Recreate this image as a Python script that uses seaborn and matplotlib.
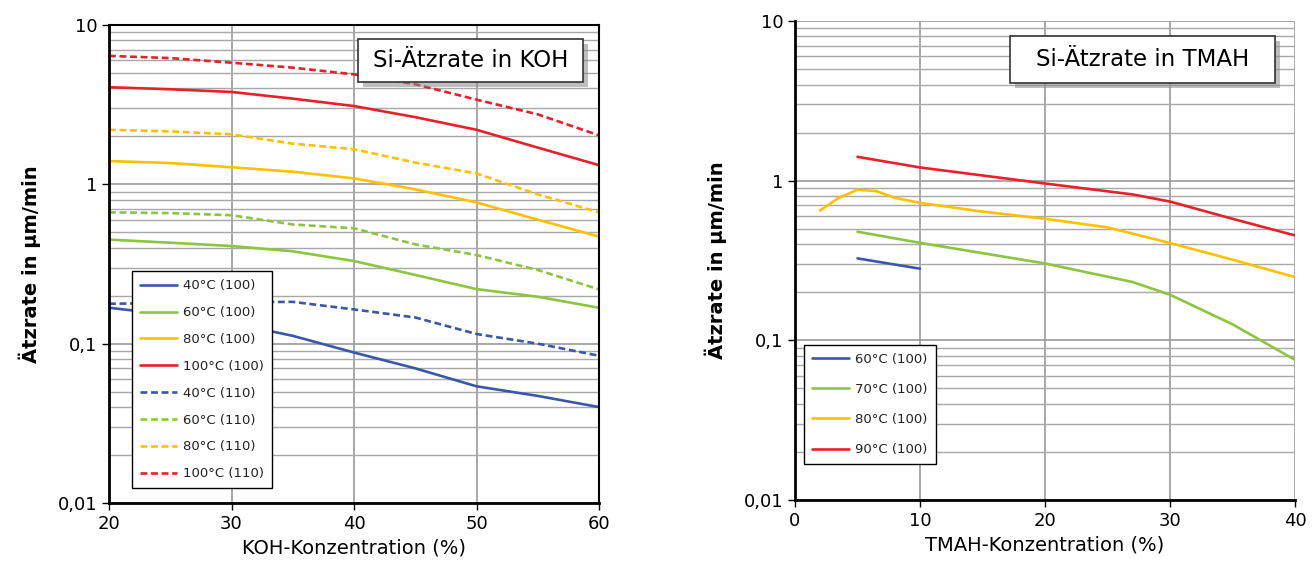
import numpy as np
import pandas as pd
import matplotlib
matplotlib.use("Agg")
import matplotlib.pyplot as plt
from matplotlib.patches import Rectangle
import seaborn as sns

# KOH data (concentration in %, rate in um/min)
koh_x = [20, 25, 30, 35, 40, 45, 50, 55, 60]
koh_40_100 = [0.168, 0.152, 0.135, 0.112, 0.088, 0.070, 0.054, 0.047, 0.040]
koh_60_100 = [0.45, 0.43, 0.41, 0.38, 0.33, 0.27, 0.22, 0.197, 0.168]
koh_80_100 = [1.40, 1.36, 1.28, 1.20, 1.09, 0.93, 0.77, 0.60, 0.47]
koh_100_100 = [4.07, 3.95, 3.80, 3.45, 3.10, 2.64, 2.20, 1.70, 1.32]
koh_40_110 = [0.178, 0.180, 0.182, 0.183, 0.164, 0.146, 0.115, 0.100, 0.084]
koh_60_110 = [0.667, 0.66, 0.64, 0.56, 0.53, 0.42, 0.36, 0.29, 0.219]
koh_80_110 = [2.20, 2.15, 2.06, 1.80, 1.66, 1.37, 1.17, 0.865, 0.667]
koh_100_110 = [6.4, 6.2, 5.8, 5.4, 4.9, 4.25, 3.4, 2.75, 2.03]
koh_labels = ["40°C (100)", "60°C (100)", "80°C (100)", "100°C (100)",
              "40°C (110)", "60°C (110)", "80°C (110)", "100°C (110)"]

# TMAH data
tmah_60_x = [5, 10]
tmah_60 = [0.326, 0.281]
tmah_70_x = [5, 10, 20, 27, 30, 35, 40]
tmah_70 = [0.479, 0.408, 0.303, 0.232, 0.193, 0.126, 0.0755]
tmah_80_x = [2, 3.5, 5, 6.5, 8, 10, 15, 20, 25, 30, 35, 40]
tmah_80 = [0.65, 0.78, 0.877, 0.86, 0.78, 0.726, 0.64, 0.577, 0.51, 0.407, 0.32, 0.249]
tmah_90_x = [5, 10, 20, 27, 30, 35, 40]
tmah_90 = [1.41, 1.21, 0.96, 0.82, 0.74, 0.577, 0.454]
tmah_labels = ["60°C (100)", "70°C (100)", "80°C (100)", "90°C (100)"]

blue, green, yellow, red = "#3A58A8", "#8CC63E", "#FFC000", "#E8202A"

sns.set_style("white")
plt.rcParams["font.family"] = ["DejaVu Sans"]

fig = plt.figure(figsize=(13.16, 5.79), dpi=100)
ax1 = fig.add_axes([109 / 1316, 1 - 503 / 579, 490 / 1316, 478 / 579])
ax2 = fig.add_axes([795 / 1316, 1 - 500 / 579, 500 / 1316, 479 / 579])

dash = (2.6, 1.4)
koh_series = [koh_40_100, koh_60_100, koh_80_100, koh_100_100,
              koh_40_110, koh_60_110, koh_80_110, koh_100_110]
koh_colors = [blue, green, yellow, red] * 2
for i, (vals, lab, c) in enumerate(zip(koh_series, koh_labels, koh_colors)):
    df = pd.DataFrame({"x": koh_x, "y": vals})
    sns.lineplot(data=df, x="x", y="y", ax=ax1, color=c, lw=1.9, label=lab)
    if i >= 4:
        ax1.lines[-1].set_dashes(dash)

tmah_series = [(tmah_60_x, tmah_60), (tmah_70_x, tmah_70),
               (tmah_80_x, tmah_80), (tmah_90_x, tmah_90)]
for (xs, vals), lab, c in zip(tmah_series, tmah_labels, [blue, green, yellow, red]):
    df = pd.DataFrame({"x": xs, "y": vals})
    sns.lineplot(data=df, x="x", y="y", ax=ax2, color=c, lw=1.9, label=lab)


def style_axes(ax, xlim, xlabel, title, tbox, leg_anchor, leg_spacing, full_frame):
    ax.set_yscale("log")
    ax.set_ylim(0.01, 10)
    ax.set_xlim(*xlim)
    ax.set_xticks(np.arange(xlim[0], xlim[1] + 1, 10))
    ax.set_yticks([0.01, 0.1, 1, 10])
    ax.set_yticklabels(["0,01", "0,1", "1", "10"])
    ax.yaxis.set_minor_locator(matplotlib.ticker.LogLocator(base=10, subs=np.arange(2, 10)))
    ax.yaxis.set_minor_formatter(matplotlib.ticker.NullFormatter())
    ax.grid(True, which="major", color="#9a9a9a", lw=1.2)
    ax.grid(True, which="minor", axis="y", color="#a8a8a8", lw=1.0)
    ax.tick_params(axis="both", which="major", direction="out", length=5, width=1,
                   labelsize=13, color="black", labelcolor="black", left=True, bottom=True)
    ax.tick_params(axis="y", which="minor", length=0)
    ax.set_xlabel(xlabel, fontsize=14, color="black")
    ax.set_ylabel("Ätzrate in µm/min", fontsize=14, fontweight="bold", labelpad=12,
                  color="black")
    for side in ["left", "bottom"]:
        ax.spines[side].set_color("black")
        ax.spines[side].set_linewidth(2)
    for side in ["top", "right"]:
        ax.spines[side].set_visible(full_frame)
        ax.spines[side].set_color("black")
        ax.spines[side].set_linewidth(1.5)
    # title box with shadow
    x0, y0, x1, y1 = tbox
    w, h = x1 - x0, y1 - y0
    dx = 5 / (ax.get_position().width * 1316)
    dy = 5 / (ax.get_position().height * 579)
    ax.add_patch(Rectangle((x0 + dx, y0 - dy), w, h, transform=ax.transAxes,
                           fc="#8a8a8a", ec="none", alpha=0.55, zorder=5))
    ax.add_patch(Rectangle((x0, y0), w, h, transform=ax.transAxes,
                           fc="white", ec="#333333", lw=1.2, zorder=6))
    ax.text(x0 + w / 2, y0 + h / 2, title, transform=ax.transAxes, fontsize=16.5,
            ha="center", va="center", color="black", zorder=7)
    leg = ax.legend(loc="lower left", bbox_to_anchor=leg_anchor, fontsize=9.5,
                    frameon=True, fancybox=False, framealpha=1, edgecolor="black",
                    handlelength=2.8, labelspacing=leg_spacing, borderpad=0.6,
                    handletextpad=0.5, borderaxespad=0)
    leg.get_frame().set_linewidth(1.0)
    leg.set_zorder(8)
    for t in leg.get_texts():
        t.set_color("#222222")


style_axes(ax1, (20, 60), "KOH-Konzentration (%)", "Si-Ätzrate in KOH",
           (0.508, 0.881, 0.967, 0.971), (0.047, 0.031), 1.05, True)
style_axes(ax2, (0, 40), "TMAH-Konzentration (%)", "Si-Ätzrate in TMAH",
           (0.43, 0.87, 0.96, 0.969), (0.018, 0.075), 1.3, False)

fig.savefig("out.png", dpi=100)
